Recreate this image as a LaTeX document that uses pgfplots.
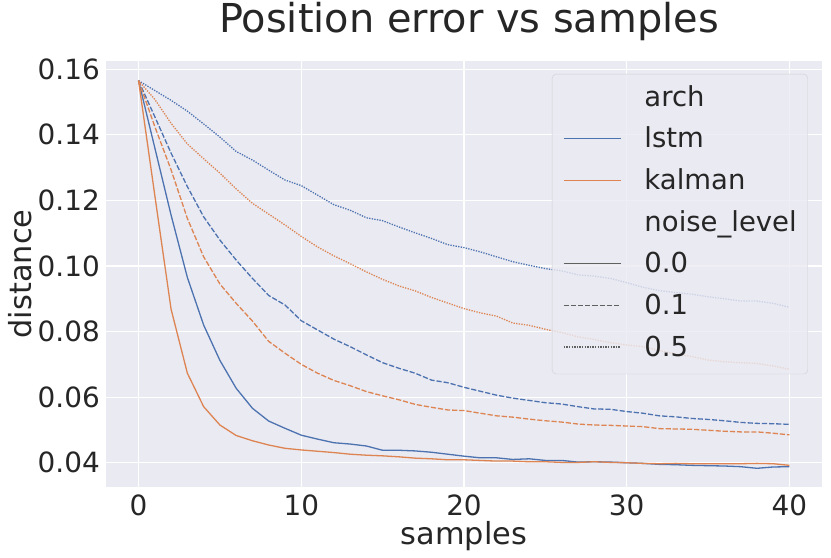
\documentclass[border=0pt]{standalone}
\usepackage{fontspec}
\setmainfont{DejaVu Sans}
\usepackage{pgfplots}
\usepackage{pgfplotstable}
\pgfplotsset{compat=1.18}
\definecolor{bgc}{HTML}{EAEAF2}
\definecolor{cblue}{HTML}{4C72B0}
\definecolor{corange}{HTML}{DD8452}
\definecolor{txt}{HTML}{262626}
\definecolor{lgray}{HTML}{606060}

\pgfplotstableread{
x y
0 0.1565
1 0.136
2 0.1155
3 0.0965
4 0.0820
5 0.0712
6 0.0627
7 0.0566
8 0.0527
9 0.0505
10 0.0484
11 0.0472
12 0.0461
13 0.0457
14 0.0451
15 0.0438
16 0.0438
17 0.0436
18 0.0432
19 0.0426
20 0.0420
21 0.0415
22 0.0415
23 0.0410
24 0.0412
25 0.0407
26 0.0407
27 0.0402
28 0.0403
29 0.0402
30 0.0400
31 0.0398
32 0.0395
33 0.0394
34 0.0392
35 0.0391
36 0.0390
37 0.0388
38 0.0383
39 0.0387
40 0.0388
}\lstmA

\pgfplotstableread{
x y
0 0.1565
1 0.1455
2 0.1344
3 0.1242
4 0.1150
5 0.1079
6 0.1018
7 0.0962
8 0.0910
9 0.0881
10 0.0833
11 0.0805
12 0.0777
13 0.0754
14 0.0729
15 0.0705
16 0.0688
17 0.0673
18 0.0652
19 0.0644
20 0.0630
21 0.0618
22 0.0606
23 0.0597
24 0.0590
25 0.0583
26 0.0579
27 0.0571
28 0.0564
29 0.0563
30 0.0556
31 0.0551
32 0.0543
33 0.0540
34 0.0535
35 0.0532
36 0.0528
37 0.0523
38 0.0520
39 0.0519
40 0.0517
}\lstmB

\pgfplotstableread{
x y
0 0.1565
1 0.1535
2 0.1505
3 0.1472
4 0.1433
5 0.1393
6 0.1349
7 0.1323
8 0.1292
9 0.1262
10 0.1245
11 0.1216
12 0.1187
13 0.1170
14 0.1147
15 0.1138
16 0.1119
17 0.1101
18 0.1084
19 0.1065
20 0.1056
21 0.1043
22 0.1028
23 0.1013
24 0.1002
25 0.0992
26 0.0985
27 0.0973
28 0.0969
29 0.0962
30 0.0949
31 0.0935
32 0.0925
33 0.0919
34 0.0914
35 0.0906
36 0.0900
37 0.0893
38 0.0893
39 0.0886
40 0.0874
}\lstmC

\pgfplotstableread{
x y
0 0.1565
1 0.1215
2 0.0868
3 0.0673
4 0.0571
5 0.0515
6 0.0483
7 0.0467
8 0.0454
9 0.0444
10 0.0439
11 0.0435
12 0.0431
13 0.0426
14 0.0423
15 0.0421
16 0.0418
17 0.0414
18 0.0412
19 0.0409
20 0.0409
21 0.0407
22 0.0405
23 0.0405
24 0.0403
25 0.0403
26 0.0401
27 0.0401
28 0.0403
29 0.0401
30 0.0400
31 0.0398
32 0.0397
33 0.0398
34 0.0397
35 0.0397
36 0.0397
37 0.0397
38 0.0398
39 0.0397
40 0.0392
}\kalA

\pgfplotstableread{
x y
0 0.1565
1 0.1425
2 0.1293
3 0.1145
4 0.1028
5 0.0945
6 0.0886
7 0.0832
8 0.0770
9 0.0734
10 0.0700
11 0.0673
12 0.0651
13 0.0635
14 0.0617
15 0.0604
16 0.0592
17 0.0578
18 0.0569
19 0.0561
20 0.0559
21 0.0551
22 0.0543
23 0.0539
24 0.0533
25 0.0528
26 0.0524
27 0.0518
28 0.0515
29 0.0514
30 0.0512
31 0.0510
32 0.0504
33 0.0503
34 0.0502
35 0.0499
36 0.0496
37 0.0494
38 0.0494
39 0.0490
40 0.0485
}\kalB

\pgfplotstableread{
x y
0 0.1565
1 0.1508
2 0.1435
3 0.1372
4 0.1327
5 0.1283
6 0.1235
7 0.1191
8 0.1158
9 0.1125
10 0.1090
11 0.1058
12 0.1031
13 0.1007
14 0.0982
15 0.0959
16 0.0939
17 0.0924
18 0.0904
19 0.0887
20 0.0870
21 0.0857
22 0.0847
23 0.0826
24 0.0819
25 0.0807
26 0.0797
27 0.0784
28 0.0776
29 0.0766
30 0.0759
31 0.0754
32 0.0742
33 0.0732
34 0.0724
35 0.0713
36 0.0708
37 0.0705
38 0.0703
39 0.0695
40 0.0685
}\kalC

\tikzset{
  solidl/.style={line width=1.3bp},
  dashl/.style={line width=1.3bp, dash pattern=on 5.2bp off 1.95bp},
  dotl/.style={line width=1.3bp, dash pattern=on 1.3bp off 1.3bp},
}

\begin{document}
\begin{tikzpicture}
\useasboundingbox (0,0) rectangle (831bp,558bp);
\begin{axis}[
  at={(106bp,71bp)}, anchor=south west,
  scale only axis, width=716bp, height=426bp,
  xmin=-2, xmax=42, ymin=0.0326, ymax=0.1625,
  axis background/.style={fill=bgc},
  axis line style={draw=none},
  major tick length=0pt,
  grid=major, grid style={white, line width=1.1bp},
  xtick={0,10,20,30,40},
  ytick={0.04,0.06,0.08,0.10,0.12,0.14,0.16},
  scaled y ticks=false,
  yticklabel style={/pgf/number format/.cd, fixed, fixed zerofill, precision=2, /tikz/.cd},
  /pgf/number format/assume math mode=true,
  ticklabel style={font=\fontsize{28}{30}\selectfont, text=txt, inner sep=0pt},
  xticklabel style={yshift=-8bp},
  yticklabel style={xshift=-6bp},
  xlabel={samples}, ylabel={distance},
  xlabel style={at={(axis description cs:0.5,-0.1338)}, anchor=base, font=\fontsize{30.5}{34}\selectfont, text=txt},
  ylabel style={at={(axis description cs:-0.1047,0.5)}, anchor=base, rotate=0, font=\fontsize{30.5}{34}\selectfont, text=txt},
  title={Position error vs samples},
  title style={at={(axis description cs:0.507,1.054)}, anchor=base, font=\fontsize{40}{44}\selectfont, text=txt},
  legend style={at={(0.9804,0.9695)}, anchor=north east, fill=bgc, fill opacity=0.8, text opacity=1,
    draw=black!12!bgc, rounded corners=4bp, font=\fontsize{27.6}{30}\selectfont, text=txt,
    nodes={inner sep=0pt, text height=21bp, text depth=6.6bp},
    row sep=14.1bp, column sep=23bp, inner xsep=11bp, inner ysep=11bp},
  legend cell align=left,
  legend image code/.code={\draw[#1] (0bp,2.2bp) -- (57bp,2.2bp);},
]
\addlegendimage{empty legend}\addlegendentry{arch}
\addlegendimage{cblue, solidl}\addlegendentry{lstm}
\addlegendimage{corange, solidl}\addlegendentry{kalman}
\addlegendimage{empty legend}\addlegendentry{noise\_level}
\addlegendimage{lgray, solidl}\addlegendentry{0.0}
\addlegendimage{lgray, dashl}\addlegendentry{0.1}
\addlegendimage{lgray, dotl}\addlegendentry{0.5}

\addplot[cblue, solidl, forget plot] table[x=x,y=y] {\lstmA};
\addplot[cblue, dashl, forget plot] table[x=x,y=y] {\lstmB};
\addplot[cblue, dotl, forget plot] table[x=x,y=y] {\lstmC};
\addplot[corange, solidl, forget plot] table[x=x,y=y] {\kalA};
\addplot[corange, dashl, forget plot] table[x=x,y=y] {\kalB};
\addplot[corange, dotl, forget plot] table[x=x,y=y] {\kalC};
\end{axis}
\end{tikzpicture}
\end{document}
